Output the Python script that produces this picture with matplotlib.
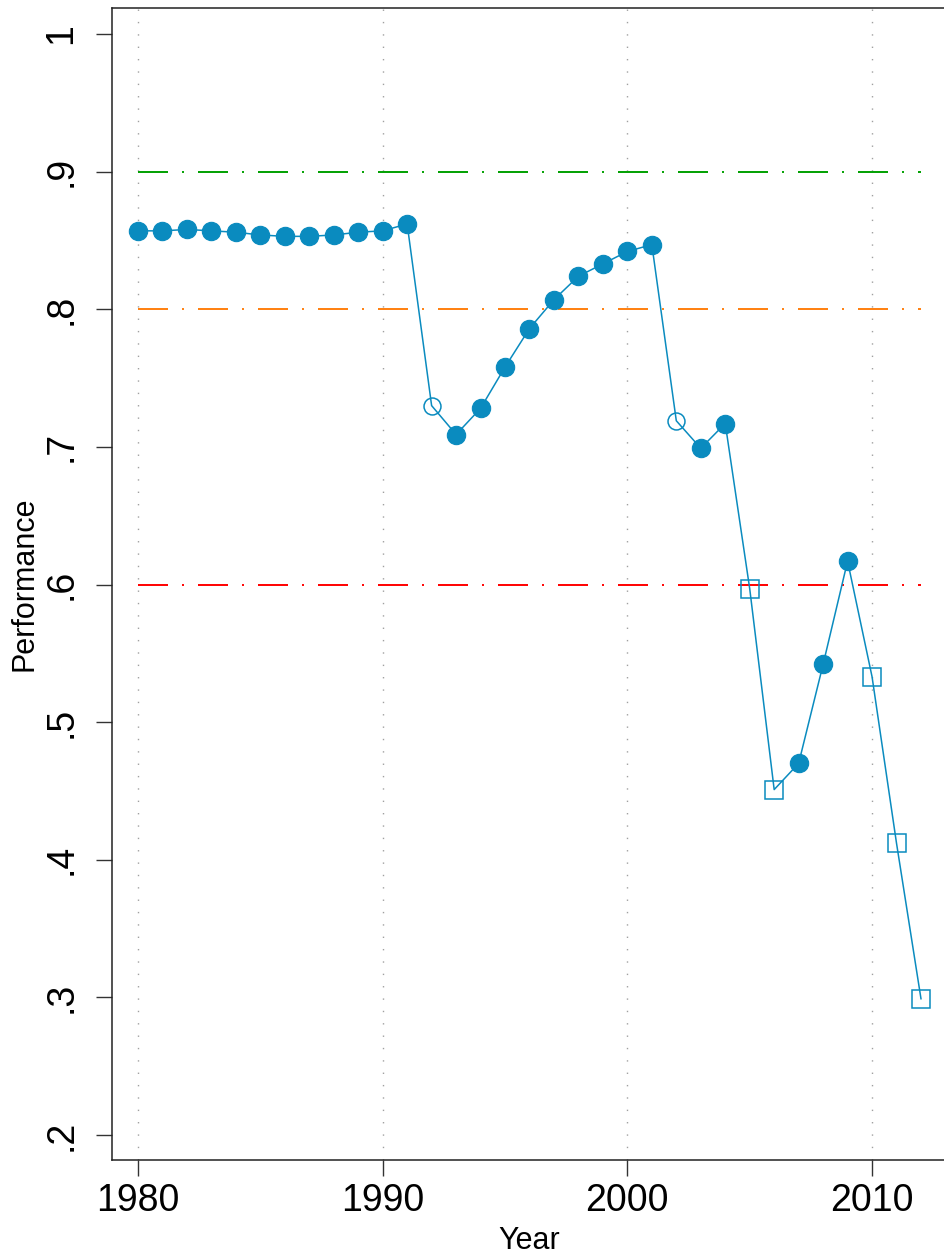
import matplotlib
matplotlib.use('agg')
import matplotlib.pyplot as plt

# performance by year; marker kind: f = filled circle, h = hollow circle, s = hollow square
years = list(range(1980, 2013))
perf = [0.857, 0.857, 0.858, 0.857, 0.856, 0.854, 0.853, 0.853, 0.854, 0.856,
        0.857, 0.862, 0.730, 0.709, 0.728, 0.758, 0.786, 0.807, 0.824, 0.833,
        0.842, 0.847, 0.719, 0.699, 0.717, 0.597, 0.451, 0.470, 0.542, 0.617,
        0.533, 0.412, 0.299]
kind = ['f'] * 12 + ['h'] + ['f'] * 9 + ['h'] + ['f'] * 2 + ['s', 's'] + ['f'] * 3 + ['s', 's', 's']

ref_levels = [0.9, 0.8, 0.6]
ref_colors = ['#00a000', '#ff7f0e', '#ff0000']

yticks = [0.2, 0.3, 0.4, 0.5, 0.6, 0.7, 0.8, 0.9, 1.0]
ytick_labels = ['.2', '.3', '.4', '.5', '.6', '.7', '.8', '.9', '1']
xticks = [1980, 1990, 2000, 2010]

blue = '#0a8bbf'

plt.rcParams['font.family'] = ['Liberation Sans', 'DejaVu Sans']
plt.rcParams['lines.scale_dashes'] = False

fig = plt.figure(figsize=(9.45, 12.56), dpi=100)
ax = fig.add_axes([0.1185, 0.0764, 1.001 - 0.1185, 0.9172])

# vertical dotted grid at the decade ticks
for x in xticks:
    ax.axvline(x, color='#a0a0a0', lw=1.0, dashes=(1.0, 7.9), zorder=1)

# reference lines
for lvl, c in zip(ref_levels, ref_colors):
    ax.plot([years[0], years[-1]], [lvl, lvl], color=c, lw=1.4,
            dashes=(21.6, 10.1, 1.4, 10.1), zorder=2)

ax.plot(years, perf, color=blue, lw=1.1, zorder=3)

fx = [y for y, k in zip(years, kind) if k == 'f']
fy = [p for p, k in zip(perf, kind) if k == 'f']
hx = [y for y, k in zip(years, kind) if k == 'h']
hy = [p for p, k in zip(perf, kind) if k == 'h']
sx = [y for y, k in zip(years, kind) if k == 's']
sy = [p for p, k in zip(perf, kind) if k == 's']

ax.plot(fx, fy, 'o', ms=13.2, mfc=blue, mec=blue, mew=0.8, ls='none', zorder=4)
ax.plot(hx, hy, 'o', ms=12.2, mfc='none', mec=blue, mew=1.1, ls='none', zorder=4)
ax.plot(sx, sy, 's', ms=12.8, mfc='none', mec=blue, mew=1.1, ls='none', zorder=4)

ax.set_xlim(1978.937, 2013.02)
ax.set_ylim(0.1818, 1.0189)

ax.set_xticks(xticks)
ax.set_xticklabels([str(x) for x in xticks], fontsize=27)
ax.set_yticks(yticks)
ax.set_yticklabels(ytick_labels, fontsize=27, rotation=90, va='center')

ax.tick_params(axis='both', length=11.5, width=1.0, color='#333333')
ax.tick_params(axis='y', pad=12)
ax.tick_params(axis='x', pad=5)

for s in ax.spines.values():
    s.set_linewidth(1.1)
    s.set_color('#222222')

ax.set_xlabel('Year', fontsize=22, labelpad=5)
ax.set_ylabel('Performance', fontsize=22, labelpad=3)

plt.savefig('out.png', dpi=100)
plt.close()
